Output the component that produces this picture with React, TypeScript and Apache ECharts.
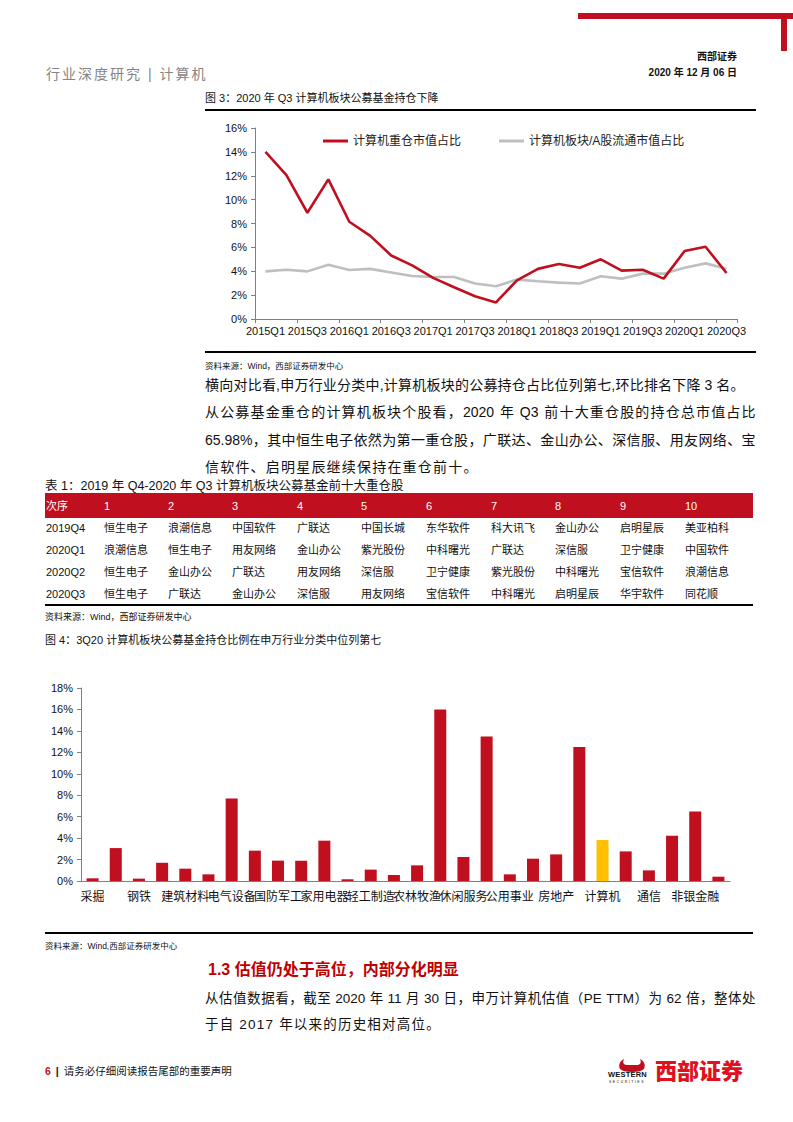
import React, { useEffect, useRef } from "react";
import * as echarts from "echarts";

// ---------- Data ----------
const quarters = [
  "2015Q1", "2015Q2", "2015Q3", "2015Q4",
  "2016Q1", "2016Q2", "2016Q3", "2016Q4",
  "2017Q1", "2017Q2", "2017Q3", "2017Q4",
  "2018Q1", "2018Q2", "2018Q3", "2018Q4",
  "2019Q1", "2019Q2", "2019Q3", "2019Q4",
  "2020Q1", "2020Q2", "2020Q3",
];
const heavyShare = [14.0, 12.06, 8.9, 11.7, 8.15, 6.96, 5.32, 4.49, 3.44, 2.66, 1.91, 1.39, 3.24, 4.2, 4.6, 4.3, 5.0, 4.05, 4.13, 3.38, 5.69, 6.05, 3.85];
const sectorShare = [3.99, 4.13, 3.99, 4.55, 4.1, 4.2, 3.9, 3.6, 3.52, 3.52, 2.97, 2.75, 3.3, 3.16, 3.05, 2.97, 3.58, 3.38, 3.8, 3.8, 4.3, 4.66, 4.2];
const lineSeriesNames = ["计算机重仓市值占比", "计算机板块/A股流通市值占比"];

const industries = [
  "采掘", "化工", "钢铁", "有色金属", "建筑材料", "建筑装饰", "电气设备", "机械设备",
  "国防军工", "汽车", "家用电器", "纺织服装", "轻工制造", "商业贸易", "农林牧渔", "食品饮料",
  "休闲服务", "医药生物", "公用事业", "交通运输", "房地产", "电子", "计算机", "传媒",
  "通信", "银行", "非银金融", "综合",
];
const holdingRatio = [
  0.25, 3.07, 0.22, 1.7, 1.15, 0.62, 7.7, 2.83,
  1.9, 1.9, 3.76, 0.16, 1.06, 0.56, 1.46, 16.0,
  2.24, 13.48, 0.62, 2.08, 2.48, 12.5, 3.82, 2.76,
  0.99, 4.22, 6.49, 0.4,
];
const highlightIndustry = "计算机";

const tableHeader = ["次序", "1", "2", "3", "4", "5", "6", "7", "8", "9", "10"];
const tableQuarters = ["2019Q4", "2020Q1", "2020Q2", "2020Q3"];
const top10_2019Q4 = ["恒生电子", "浪潮信息", "中国软件", "广联达", "中国长城", "东华软件", "科大讯飞", "金山办公", "启明星辰", "美亚柏科"];
const top10_2020Q1 = ["浪潮信息", "恒生电子", "用友网络", "金山办公", "紫光股份", "中科曙光", "广联达", "深信服", "卫宁健康", "中国软件"];
const top10_2020Q2 = ["恒生电子", "金山办公", "广联达", "用友网络", "深信服", "卫宁健康", "紫光股份", "中科曙光", "宝信软件", "浪潮信息"];
const top10_2020Q3 = ["恒生电子", "广联达", "金山办公", "深信服", "用友网络", "宝信软件", "中科曙光", "启明星辰", "华宇软件", "同花顺"];
const tableRows = [top10_2019Q4, top10_2020Q1, top10_2020Q2, top10_2020Q3];

// ---------- Styles ----------
const RED = "#C00F1E";
const GRAY_LINE = "#BFBFBF";
const YELLOW = "#FFC000";
const CJK = "'Liberation Sans', 'Noto Sans CJK SC', sans-serif";

function Txt(props: { x: number; y: number; size: number; children: any; style?: any; right?: boolean }) {
  const lh = Math.round(props.size * 1.4);
  const s: any = {
    position: "absolute",
    top: props.y - lh / 2,
    fontSize: props.size,
    lineHeight: lh + "px",
    whiteSpace: "nowrap",
    color: "#111",
    ...(props.style || {}),
  };
  if (props.right) {
    s.right = 793 - props.x;
  } else {
    s.left = props.x;
  }
  return <div style={s}>{props.children}</div>;
}

function JLine(props: { x: number; y: number; w: number; size: number; text: string }) {
  const tokens = props.text.match(/[A-Za-z0-9.%]+| |\S/g) || [];
  const lh = Math.round(props.size * 1.4);
  return (
    <div
      style={{
        position: "absolute",
        left: props.x,
        top: props.y - lh / 2,
        width: props.w,
        display: "flex",
        justifyContent: "space-between",
        fontSize: props.size,
        lineHeight: lh + "px",
        whiteSpace: "nowrap",
        color: "#111",
      }}
    >
      {tokens.map((t, i) =>
        t === " " ? (
          <span key={i} style={{ display: "inline-block", width: "0.25em" }} />
        ) : (
          <span key={i}>{t}</span>
        )
      )}
    </div>
  );
}

function LineChart() {
  const ref = useRef<HTMLDivElement>(null);
  useEffect(() => {
    const chart = echarts.init(ref.current!, null, { renderer: "svg" });
    chart.setOption({
      animation: false,
      textStyle: { fontFamily: CJK },
      grid: { left: 50, right: 19, top: 16, bottom: 31 },
      legend: {
        top: 18,
        left: 113,
        itemWidth: 25,
        itemHeight: 3,
        itemGap: 38,
        icon: "rect",
        textStyle: { fontSize: 12, color: "#222", fontFamily: CJK },
        data: lineSeriesNames,
      },
      xAxis: {
        type: "category",
        data: quarters,
        boundaryGap: true,
        axisLine: { lineStyle: { color: "#808080" } },
        axisTick: { show: true, length: 4, lineStyle: { color: "#808080" } },
        axisLabel: { interval: 1, fontSize: 11, color: "#111", margin: 6, fontFamily: "'Liberation Sans', Arial" },
      },
      yAxis: {
        type: "value",
        min: 0,
        max: 16,
        interval: 2,
        axisLine: { show: true, lineStyle: { color: "#808080" } },
        axisTick: { show: true, length: 4, lineStyle: { color: "#808080" } },
        splitLine: { show: false },
        axisLabel: { formatter: "{value}%", fontSize: 11, color: "#111", margin: 8, fontFamily: "'Liberation Sans', Arial" },
      },
      series: [
        {
          name: lineSeriesNames[0],
          type: "line",
          data: heavyShare,
          symbol: "none",
          lineStyle: { width: 2.6, color: RED },
          itemStyle: { color: RED },
          z: 3,
        },
        {
          name: lineSeriesNames[1],
          type: "line",
          data: sectorShare,
          symbol: "none",
          lineStyle: { width: 2.6, color: GRAY_LINE },
          itemStyle: { color: GRAY_LINE },
          z: 2,
        },
      ],
    });
    return () => chart.dispose();
  }, []);
  return <div ref={ref} style={{ position: "absolute", left: 205, top: 112, width: 551, height: 238 }} />;
}

function BarChart() {
  const ref = useRef<HTMLDivElement>(null);
  useEffect(() => {
    const chart = echarts.init(ref.current!, null, { renderer: "svg" });
    chart.setOption({
      animation: false,
      textStyle: { fontFamily: CJK },
      grid: { left: 36, right: 26, top: 38, bottom: 49 },
      xAxis: {
        type: "category",
        data: industries,
        axisLine: { lineStyle: { color: "#808080" } },
        axisTick: { show: false },
        axisLabel: { interval: 1, fontSize: 12, color: "#111", margin: 10, fontFamily: CJK },
      },
      yAxis: {
        type: "value",
        min: 0,
        max: 18,
        interval: 2,
        axisLine: { show: true, lineStyle: { color: "#808080" } },
        axisTick: { show: true, length: 4, lineStyle: { color: "#808080" } },
        splitLine: { show: false },
        axisLabel: { formatter: "{value}%", fontSize: 11, color: "#111", margin: 8, fontFamily: "'Liberation Sans', Arial" },
      },
      series: [
        {
          type: "bar",
          barWidth: 12,
          data: holdingRatio.map((v, i) =>
            industries[i] === highlightIndustry ? { value: v, itemStyle: { color: YELLOW } } : v
          ),
          itemStyle: { color: RED },
        },
      ],
    });
    return () => chart.dispose();
  }, []);
  return <div ref={ref} style={{ position: "absolute", left: 45, top: 650, width: 711, height: 280 }} />;
}

const colLefts = [46, 104, 168, 232, 297, 361, 426, 491, 555, 620, 685];
const rowYs = [528, 550, 572, 594];

export default function App() {
  return (
    <div
      style={{
        position: "absolute",
        left: 0,
        top: 0,
        width: 793,
        height: 1122,
        background: "#fff",
        overflow: "hidden",
        fontFamily: CJK,
      }}
    >
      {/* header decoration */}
      <div style={{ position: "absolute", left: 578, top: 13, width: 215, height: 6, background: RED }} />
      <div style={{ position: "absolute", left: 781, top: 13, width: 6, height: 38, background: RED }} />
      <Txt x={737} y={57} size={10} right style={{ fontWeight: 700 }}>西部证券</Txt>
      <Txt x={737} y={73} size={10} right style={{ fontWeight: 700 }}>2020 年 12 月 06 日</Txt>
      <Txt x={46} y={74} size={14} style={{ color: "#858585", letterSpacing: 2 }}>行业深度研究 | 计算机</Txt>

      {/* Figure 3 */}
      <Txt x={205} y={98} size={11}>图 3：2020 年 Q3 计算机板块公募基金持仓下降</Txt>
      <div style={{ position: "absolute", left: 205, top: 109, width: 551, height: 1.5, background: "#000" }} />
      <LineChart />
      <div style={{ position: "absolute", left: 205, top: 351, width: 551, height: 1.5, background: "#000" }} />
      <Txt x={205} y={366} size={8.5}>资料来源：Wind，西部证券研发中心</Txt>

      {/* paragraph 1 */}
      <JLine x={205} y={385} w={540} size={14} text="横向对比看,申万行业分类中,计算机板块的公募持仓占比位列第七,环比排名下降 3 名。" />
      <JLine x={205} y={412} w={551} size={14} text="从公募基金重仓的计算机板块个股看，2020 年 Q3 前十大重仓股的持仓总市值占比" />
      <JLine x={205} y={440} w={551} size={14} text="65.98%，其中恒生电子依然为第一重仓股，广联达、金山办公、深信服、用友网络、宝" />
      <Txt x={205} y={467} size={14} style={{ letterSpacing: 1.2 }}>信软件、启明星辰继续保持在重仓前十。</Txt>

      {/* Table 1 */}
      <Txt x={45} y={486} size={12.5}>表 1：2019 年 Q4-2020 年 Q3 计算机板块公募基金前十大重仓股</Txt>
      <div style={{ position: "absolute", left: 45, top: 493, width: 708, height: 25, background: RED }} />
      {tableHeader.map((h, i) => (
        <Txt key={"h" + i} x={colLefts[i]} y={506} size={11} style={{ color: "#fff" }}>{h}</Txt>
      ))}
      {tableRows.map((row, r) => (
        <React.Fragment key={"r" + r}>
          <Txt x={colLefts[0]} y={rowYs[r]} size={11}>{tableQuarters[r]}</Txt>
          {row.map((name, c) => (
            <Txt key={"c" + c} x={colLefts[c + 1]} y={rowYs[r]} size={11}>{name}</Txt>
          ))}
        </React.Fragment>
      ))}
      <div style={{ position: "absolute", left: 45, top: 604, width: 708, height: 1.5, background: "#000" }} />
      <Txt x={45} y={617} size={9}>资料来源：Wind，西部证券研发中心</Txt>

      {/* Figure 4 */}
      <Txt x={45} y={640} size={11}>图 4：3Q20 计算机板块公募基金持仓比例在申万行业分类中位列第七</Txt>
      <BarChart />
      <div style={{ position: "absolute", left: 45, top: 932, width: 708, height: 1.5, background: "#000" }} />
      <Txt x={45} y={946} size={8.5}>资料来源：Wind,西部证券研发中心</Txt>

      {/* Section 1.3 */}
      <Txt x={208} y={970} size={16} style={{ color: "#C00000", fontWeight: 700 }}>1.3  估值仍处于高位，内部分化明显</Txt>
      <JLine x={205} y={998} w={551} size={13.5} text="从估值数据看，截至 2020 年 11 月 30 日，申万计算机估值（PE TTM）为 62 倍，整体处" />
      <Txt x={205} y={1024} size={13.5} style={{ letterSpacing: 1.2 }}>于自 2017 年以来的历史相对高位。</Txt>

      {/* footer */}
      <Txt x={45} y={1071} size={10.5}>
        <span style={{ color: RED, fontWeight: 700 }}>6</span>
        <span style={{ margin: "0 5px", fontWeight: 700 }}>|</span>
        请务必仔细阅读报告尾部的重要声明
      </Txt>
      <svg style={{ position: "absolute", left: 612, top: 1057 }} width="40" height="16" viewBox="0 0 40 16">
        <path d="M8 12 C6 8 8 4 12 2 C10 6 12 8 16 8 L24 8 C28 8 30 6 28 2 C32 4 34 8 32 12 C30 14 26 15 20 15 C14 15 10 14 8 12 Z" fill={RED} />
      </svg>
      <Txt x={608} y={1074} size={7.5} style={{ fontWeight: 700, fontFamily: "'Liberation Sans', Arial", letterSpacing: 0.2 }}>WESTERN</Txt>
      <Txt x={609} y={1082} size={3.5} style={{ fontFamily: "'Liberation Sans', Arial", letterSpacing: 1.5 }}>SECURITIES</Txt>
      <Txt x={655} y={1071} size={22} style={{ color: "#E0101E", fontWeight: 900 }}>西部证券</Txt>
    </div>
  );
}
